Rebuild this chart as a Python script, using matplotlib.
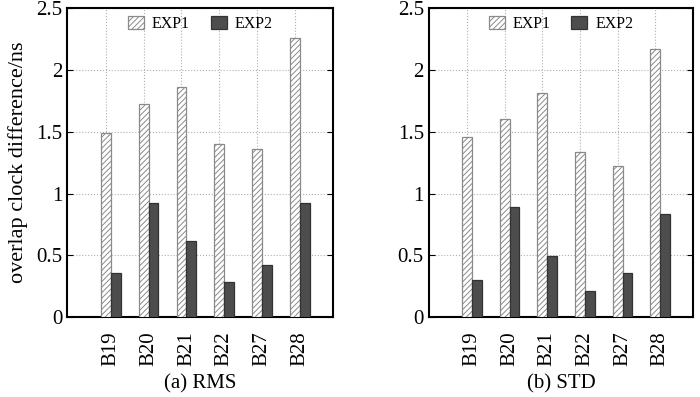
import numpy as np
import matplotlib.pyplot as plt
from matplotlib.ticker import FixedLocator

plt.rcParams['font.family'] = ['Liberation Serif', 'DejaVu Serif']
plt.rcParams['hatch.linewidth'] = 0.7

stations = ['B19', 'B20', 'B21', 'B22', 'B27', 'B28']
rms_exp1 = [1.487, 1.724, 1.86, 1.40, 1.364, 2.26]
rms_exp2 = [0.359, 0.922, 0.617, 0.284, 0.425, 0.922]
std_exp1 = [1.455, 1.60, 1.816, 1.333, 1.226, 2.17]
std_exp2 = [0.30, 0.894, 0.497, 0.215, 0.36, 0.838]
panel_titles = ['(a) RMS', '(b) STD']

fig = plt.figure(figsize=(7, 3.97), dpi=100)
ax1 = fig.add_axes([0.096, 0.2007, 0.38, 0.779])
ax2 = fig.add_axes([0.6124, 0.2007, 0.378, 0.779])

x = np.arange(len(stations))
w = 0.26

for ax, e1, e2, title in [(ax1, rms_exp1, rms_exp2, panel_titles[0]),
                          (ax2, std_exp1, std_exp2, panel_titles[1])]:
    ax.bar(x - w / 2, e1, w, color='white', edgecolor='#8a8a8a',
           hatch='//////', linewidth=0.9, label='EXP1', zorder=3)
    ax.bar(x + w / 2, e2, w, color='#4d4d4d', edgecolor='#333333',
           linewidth=0.9, label='EXP2', zorder=3)
    ax.set_xlim(-1.15, 5.88)
    ax.set_ylim(0, 2.5)
    ax.set_yticks([0, 0.5, 1, 1.5, 2, 2.5])
    ax.set_yticklabels(['0', '0.5', '1', '1.5', '2', '2.5'])
    ax.set_xticks(x)
    ax.set_xticklabels(stations, rotation=90)
    ax.xaxis.set_minor_locator(FixedLocator(x - w / 2))
    ax.grid(True, axis='y', which='major', linestyle=':', color='#b0b0b0', linewidth=0.8, zorder=0)
    ax.grid(True, axis='x', which='minor', linestyle=':', color='#b0b0b0', linewidth=0.8, zorder=0)
    ax.tick_params(axis='both', which='major', direction='in', labelsize=15,
                   right=True, length=4, width=0.8)
    ax.tick_params(axis='x', which='major', length=0, pad=10)
    ax.tick_params(axis='x', which='minor', length=0)
    for s in ax.spines.values():
        s.set_linewidth(1.5)
    ax.set_xlabel(title, fontsize=15, labelpad=6)
    ax.legend(loc='upper center', ncol=2, frameon=False, fontsize=11.5,
              handlelength=1.0, handleheight=0.8, columnspacing=1.3,
              handletextpad=0.5, borderaxespad=0.1)

ax1.set_ylabel('overlap clock difference/ns', fontsize=16, labelpad=6)

fig.savefig('out.png', dpi=100)
